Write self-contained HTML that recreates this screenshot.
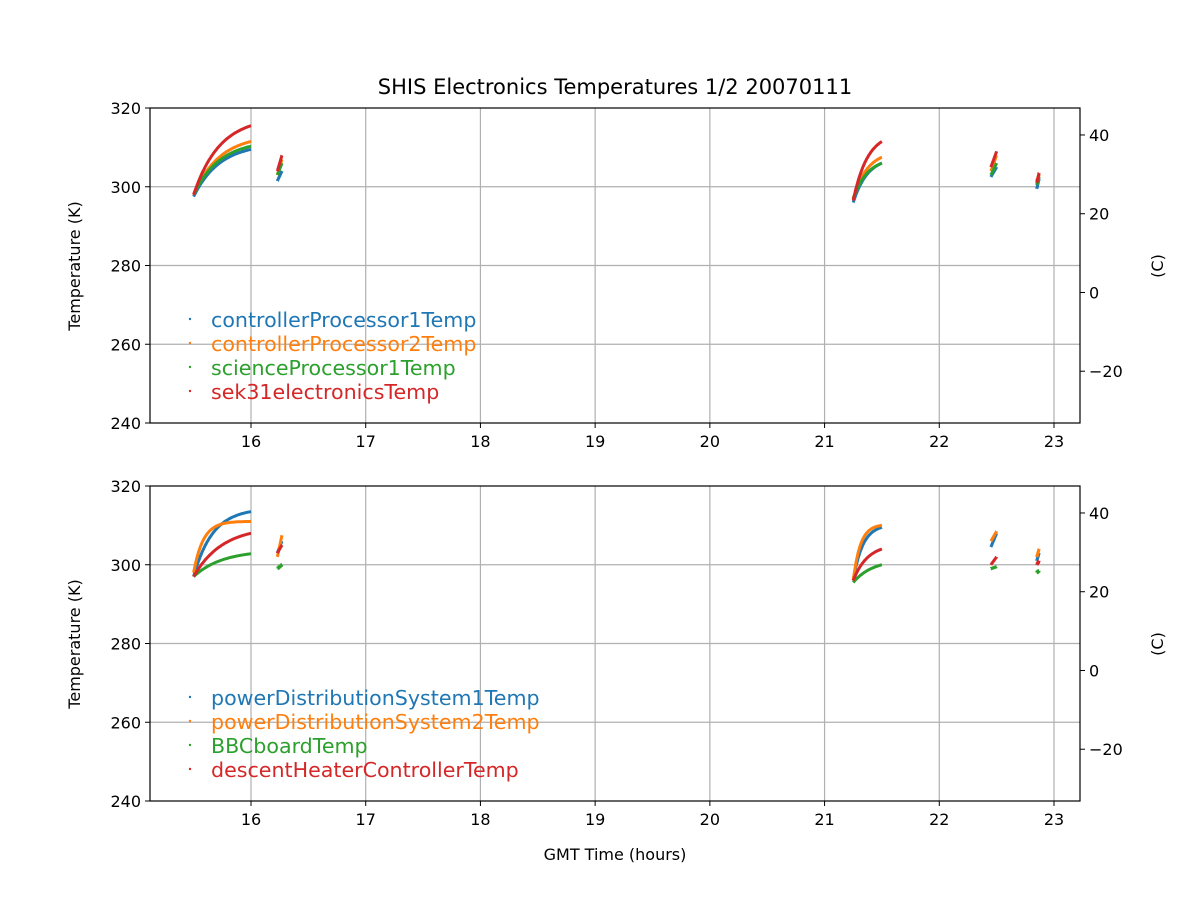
<!DOCTYPE html>
<html><head><meta charset="utf-8"><style>
body{margin:0;background:#fff;}
svg text{font-family:"DejaVu Sans","Liberation Sans",sans-serif;fill:#000;}
</style></head><body>
<svg id="s" width="1200" height="900" xmlns="http://www.w3.org/2000/svg"></svg>
<script>
const s=document.getElementById('s');
let h='';
const X=t=>251+(t-16)*114.714;
const C=['#1f77b4','#ff7f0e','#2ca02c','#d62728'];
h+='<text x="615" y="94" font-size="21" text-anchor="middle">SHIS Electronics Temperatures 1/2 20070111</text>';
function panel(top,series,labels){
  const Y=k=>top+(320-k)*3.9375;
  const L=150,R=1080,B=top+315;
  for(let t=16;t<=23;t++){h+=`<line x1="${X(t)}" x2="${X(t)}" y1="${top}" y2="${B}" stroke="#b0b0b0" stroke-width="1.2"/>`;}
  for(let k=260;k<=300;k+=20){h+=`<line x1="${L}" x2="${R}" y1="${Y(k)}" y2="${Y(k)}" stroke="#b0b0b0" stroke-width="1.2"/>`;}
  series.forEach((segs,i)=>{segs.forEach(([t0,t1,a,b,k])=>{
    let d='';for(let j=0;j<=60;j++){const u=j/60;const f=k?(1-Math.exp(-k*u))/(1-Math.exp(-k)):u;
      d+=(j?'L':'M')+X(t0+(t1-t0)*u).toFixed(1)+','+Y(a+(b-a)*f).toFixed(1);}
    h+=`<path d="${d}" fill="none" stroke="${C[i]}" stroke-width="3"/>`;});});
  h+=`<rect x="${L}" y="${top}" width="${R-L}" height="315" fill="none" stroke="#000" stroke-width="1.2"/>`;
  for(let t=16;t<=23;t++){h+=`<line x1="${X(t)}" x2="${X(t)}" y1="${B}" y2="${B+5}" stroke="#000"/><text x="${X(t)}" y="${B+24}" font-size="16" text-anchor="middle">${t}</text>`;}
  for(let k=240;k<=320;k+=20){h+=`<line x1="${L-5}" x2="${L}" y1="${Y(k)}" y2="${Y(k)}" stroke="#000"/><text x="${L-9}" y="${Y(k)+6}" font-size="16" text-anchor="end">${k}</text>`;}
  for(let c=-20;c<=40;c+=20){const y=Y(c+273.15);h+=`<line x1="${R}" x2="${R+5}" y1="${y}" y2="${y}" stroke="#000"/><text x="${R+9}" y="${y+6}" font-size="16">${c<0?'\u2212'+(-c):c}</text>`;}
  h+=`<text transform="translate(80,${top+158}) rotate(-90)" font-size="16" text-anchor="middle">Temperature (K)</text>`;
  h+=`<text transform="translate(1163,${top+158}) rotate(-90)" font-size="16" text-anchor="middle">(C)</text>`;
  labels.forEach((l,i)=>{const y=top+213+i*24;h+=`<circle cx="190" cy="${y-2}" r="1.2" fill="${C[i]}"/><text x="211" y="${y+6}" font-size="20.6" style="fill:${C[i]}">${l}</text>`;});
}
panel(108,[
 [[15.5,16.0,297.5,309.5,2.2],[16.23,16.27,301.5,304,0],[21.25,21.5,296,306,2],[22.45,22.5,302.5,305,0],[22.85,22.87,299.5,302,0]],
 [[15.5,16.0,298,311.5,2.2],[16.23,16.27,303,307,0],[21.25,21.5,297,307.5,2],[22.45,22.5,304,308,0],[22.85,22.87,301.5,303,0]],
 [[15.5,16.0,298,310.3,2.2],[16.23,16.27,303,306,0],[21.25,21.5,297,306,2],[22.45,22.5,303,306,0],[22.85,22.87,300.5,302.5,0]],
 [[15.5,16.0,298,315.5,2.2],[16.23,16.27,304,308,0],[21.25,21.5,296.5,311.5,2],[22.45,22.5,305,309,0],[22.85,22.87,301,303.5,0]]
],['controllerProcessor1Temp','controllerProcessor2Temp','scienceProcessor1Temp','sek31electronicsTemp']);
panel(486,[
 [[15.5,16.0,297,313.5,3],[16.23,16.27,303,306,0],[21.25,21.5,296,309.5,3],[22.45,22.5,304.5,308,0],[22.85,22.87,301,303,0]],
 [[15.5,16.0,298,311,6],[16.23,16.27,302,307.5,0],[21.25,21.5,296,310,4],[22.45,22.5,306,308.5,0],[22.85,22.87,302,304,0]],
 [[15.5,16.0,297,302.8,2],[16.23,16.27,299,300,0],[21.25,21.5,295.5,300,1.5],[22.45,22.5,299,299.5,0],[22.85,22.87,298,298.5,0]],
 [[15.5,16.0,297,308,2],[16.23,16.27,303,305,0],[21.25,21.5,296,304,2],[22.45,22.5,300,302,0],[22.85,22.87,300,301,0]]
],['powerDistributionSystem1Temp','powerDistributionSystem2Temp','BBCboardTemp','descentHeaterControllerTemp']);
h+='<text x="615" y="860" font-size="16" text-anchor="middle">GMT Time (hours)</text>';
s.innerHTML=h;
</script>
</body></html>
